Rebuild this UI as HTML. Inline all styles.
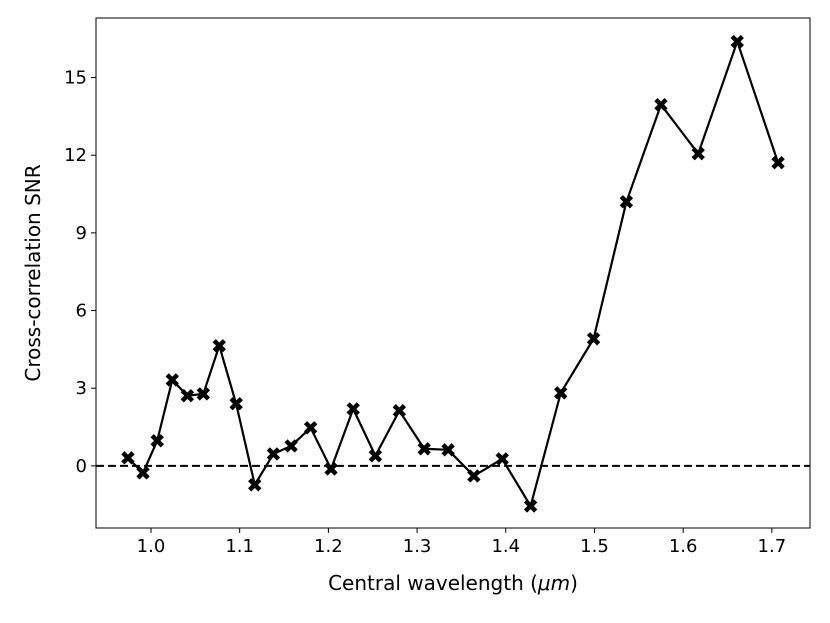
<!DOCTYPE html>
<html><head><meta charset="utf-8"><style>
html,body{margin:0;padding:0;background:#fff;}
svg{display:block;font-family:"DejaVu Sans","Liberation Sans",sans-serif;}
</style></head><body>
<svg id="chart" width="830" height="623" viewBox="0 0 830 623"></svg>
<script>
const wavelengths=[0.974,0.991,1.007,1.024,1.041,1.059,1.077,1.096,1.117,1.138,1.158,1.180,1.203,1.228,1.253,1.280,1.308,1.335,1.364,1.396,1.428,1.462,1.499,1.536,1.575,1.617,1.661,1.707];
const snrValues=[0.31,-0.27,0.97,3.32,2.71,2.78,4.64,2.40,-0.73,0.46,0.77,1.47,-0.12,2.20,0.39,2.13,0.66,0.62,-0.39,0.27,-1.55,2.82,4.91,10.2,13.95,12.06,16.39,11.71];
const xTicks=[1.0,1.1,1.2,1.3,1.4,1.5,1.6,1.7];
const xTickLabels=["1.0","1.1","1.2","1.3","1.4","1.5","1.6","1.7"];
const yTicks=[0,3,6,9,12,15];
const yTickLabels=["0","3","6","9","12","15"];

const L=96,R=810,T=18,B=528;
const xMin=0.938,xMax=1.743,yMin=-2.4,yMax=17.3;
const xs=v=>L+(v-xMin)/(xMax-xMin)*(R-L);
const ys=v=>B-(v-yMin)/(yMax-yMin)*(B-T);
const NS="http://www.w3.org/2000/svg";
const svg=document.getElementById('chart');
function mk(tag,attrs,parent){const e=document.createElementNS(NS,tag);for(const k in attrs)e.setAttribute(k,attrs[k]);(parent||svg).appendChild(e);return e;}

const frame=mk('rect',{x:L,y:T,width:R-L,height:B-T,fill:'none',stroke:'#000','stroke-width':1});



const zl=mk('line',{x1:L,x2:R,y1:ys(0),y2:ys(0),stroke:'#000','stroke-width':2,'stroke-dasharray':'8,4'});



xTicks.forEach((t,i)=>{
  const x=xs(t);
  const tk=mk('line',{x1:x,x2:x,y1:B,y2:B+5,stroke:'#000','stroke-width':1});
  
  
  const tx=mk('text',{x:x,y:B+24,'text-anchor':'middle','font-size':18});
  tx.textContent=xTickLabels[i];
  
  
});
yTicks.forEach((t,i)=>{
  const y=ys(t);
  const tk=mk('line',{x1:L-5,x2:L,y1:y,y2:y,stroke:'#000','stroke-width':1});
  
  
  const tx=mk('text',{x:L-9,y:y+6,'text-anchor':'end','font-size':18});
  tx.textContent=yTickLabels[i];
  
  
});

const pts=wavelengths.map((w,i)=>xs(w)+','+ys(snrValues[i])).join(' ');
const line=mk('polyline',{points:pts,fill:'none',stroke:'#000','stroke-width':2.2,'stroke-linejoin':'round'});



wavelengths.forEach((w,i)=>{
  const cx=xs(w),cy=ys(snrValues[i]);
  const m=mk('path',{d:`M${cx-3.5} ${cy-3.5}L${cx+3.5} ${cy+3.5}M${cx-3.5} ${cy+3.5}L${cx+3.5} ${cy-3.5}`,stroke:'#000','stroke-width':4.5,'stroke-linecap':'square'});
  
  
});

const xl=mk('text',{x:(L+R)/2,y:590,'text-anchor':'middle','font-size':20});
xl.innerHTML='Central wavelength (<tspan font-style="italic">μm</tspan>)';


const yl=mk('text',{x:0,y:0,'text-anchor':'middle','font-size':20,transform:`translate(40,${(T+B)/2}) rotate(-90)`});
yl.textContent='Cross-correlation SNR';


</script>
</body></html>
